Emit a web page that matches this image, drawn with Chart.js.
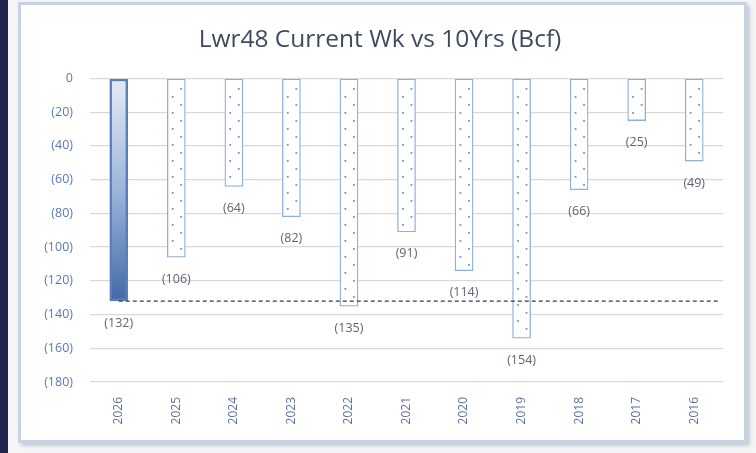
<!DOCTYPE html>
<html>
<head>
<meta charset="utf-8">
<script src="https://cdn.jsdelivr.net/npm/chart.js@4.4.1/dist/chart.umd.min.js"></script>
<style>
  html, body { margin: 0; padding: 0; }
  body { width: 756px; height: 453px; background: #f4f5f7; position: relative; overflow: hidden; }
  #strip { position: absolute; left: 0; top: 0; width: 8px; height: 453px; background: #23244f; }
  #frame {
    position: absolute; left: 18px; top: 2px; width: 723px; height: 435px;
    background: #fff; border: 3px solid #c6d3e5;
    box-shadow: 3px 3px 3px rgba(150,160,175,0.45);
  }
  #chart { display: block; }
</style>
</head>
<body>
<div id="strip"></div>
<div id="frame"><canvas id="chart" width="723" height="435"></canvas></div>
<script>
var categories = ['2026', '2025', '2024', '2023', '2022', '2021', '2020', '2019', '2018', '2017', '2016'];
var values = [-132, -106, -64, -82, -135, -91, -114, -154, -66, -25, -49];
var currentWk = -132;
var yMin = -180, yMax = 0, yStep = 20;

function paren(v) {
    return v === 0 ? '0' : '(' + Math.abs(v) + ')';
}

// gradient for the current-week bar
function barFill(context) {
    var chart = context.chart;
    if (!chart.chartArea) return '#ffffff';
    if (context.dataIndex !== 0) return '#ffffff';
    var y = chart.scales.y;
    var g = chart.ctx.createLinearGradient(0, y.getPixelForValue(0), 0, y.getPixelForValue(values[0]));
    g.addColorStop(0, '#e4ebf5');
    g.addColorStop(0.5, '#9db5da');
    g.addColorStop(1, '#416aa8');
    return g;
}

var extras = {
    id: 'extras',
    afterDatasetsDraw: function (chart) {
        var ctx = chart.ctx;
        var meta = chart.getDatasetMeta(0);
        // dotted fill on the history bars
        ctx.save();
        ctx.fillStyle = '#7396cc';
        meta.data.forEach(function (bar, i) {
            if (i === 0) return;
            var left = bar.x - bar.width / 2;
            var top = Math.min(bar.base, bar.y), bottom = Math.max(bar.base, bar.y);
            var k = 0;
            for (var yy = top + 9; yy < bottom - 3; yy += 8) {
                var xx = (k % 2 === 0) ? left + 13 : left + 4.5;
                ctx.fillRect(xx, yy, 1.8, 1.8);
                k++;
            }
        });
        ctx.restore();

        // dashed line at current week
        var ys = chart.scales.y.getPixelForValue(currentWk);
        ctx.save();
        ctx.strokeStyle = '#3a3a3a';
        ctx.lineWidth = 1.2;
        ctx.setLineDash([4, 3]);
        ctx.beginPath();
        ctx.moveTo(meta.data[0].x, ys);
        ctx.lineTo(chart.chartArea.right - 4, ys);
        ctx.stroke();
        ctx.restore();

        // value labels under bars
        ctx.save();
        ctx.font = '12.5px "Open Sans"';
        ctx.fillStyle = '#5d6472';
        ctx.textAlign = 'center';
        ctx.textBaseline = 'middle';
        meta.data.forEach(function (bar, i) {
            ctx.fillText(paren(values[i]), bar.x, bar.y + 22);
        });
        ctx.restore();
    }
};

new Chart(document.getElementById('chart'), {
    type: 'bar',
    data: {
        labels: categories,
        datasets: [{
            data: values,
            backgroundColor: barFill,
            borderColor: function (c) { return c.dataIndex === 0 ? '#5a7fb8' : '#8eaedb'; },
            borderWidth: function (c) { return c.dataIndex === 0 ? 2.5 : 1.3; },
            borderSkipped: false,
            barThickness: 18
        }]
    },
    plugins: [extras],
    options: {
        responsive: false,
        animation: false,
        layout: { padding: { top: 4, right: 21, bottom: 8, left: 16 } },
        plugins: {
            legend: { display: false },
            tooltip: { enabled: false },
            title: {
                display: true,
                text: 'Lwr48 Current Wk vs 10Yrs (Bcf)',
                color: '#3f4a60',
                font: { family: 'Open Sans', size: 24.5, weight: 'normal', lineHeight: 1.2 },
                padding: { top: 16, bottom: 24 }
            }
        },
        scales: {
            x: {
                grid: { display: false },
                border: { display: false },
                ticks: {
                    color: '#5b6fa0',
                    font: { family: 'Open Sans', size: 12 },
                    minRotation: 90, maxRotation: 90,
                    padding: 7
                },
                afterFit: function (s) { s.height = 50; }
            },
            y: {
                min: yMin, max: yMax,
                grid: { color: '#d9d9d9', lineWidth: 1.2, drawTicks: false },
                border: { display: false },
                ticks: {
                    stepSize: yStep,
                    color: '#5a7bb5',
                    font: { family: 'Open Sans', size: 12.5 },
                    padding: 17,
                    callback: function (v) { return paren(v); }
                },
                afterFit: function (s) { s.width = 53; }
            }
        }
    }
});
</script>
</body>
</html>
